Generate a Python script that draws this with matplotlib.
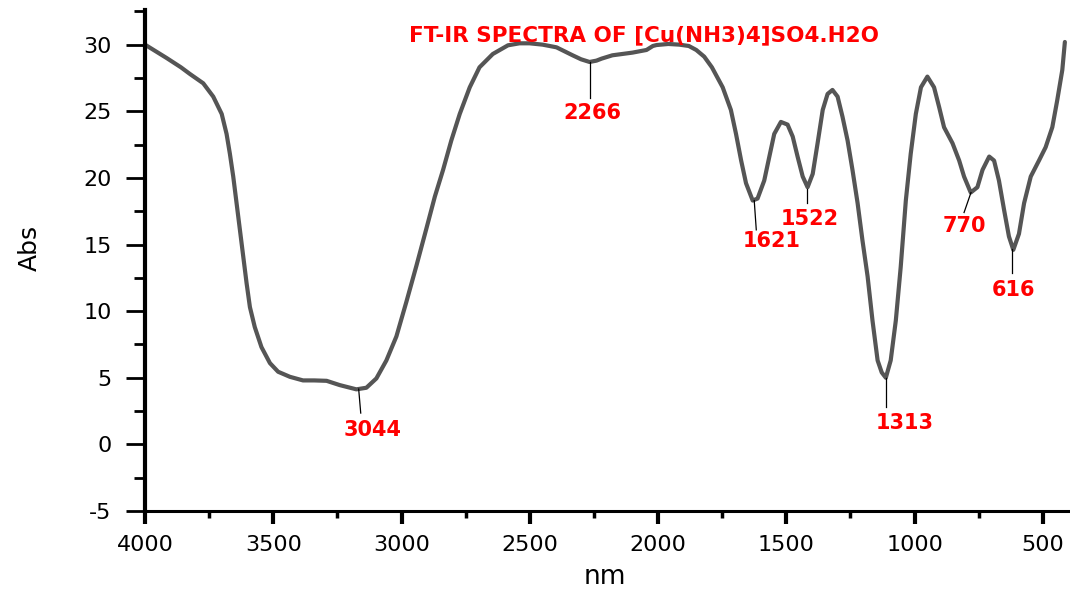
import matplotlib.pyplot as plt
from matplotlib.ticker import MultipleLocator

plt.rcParams['axes.unicode_minus'] = False

# traced spectrum (wavenumber, absorbance)
wavenumber = [4000, 3916, 3860, 3825, 3773, 3734, 3701, 3682, 3669, 3656, 3643, 3630,
              3617, 3604, 3591, 3572, 3546, 3513, 3481, 3435, 3384, 3340, 3292, 3241,
              3176, 3137, 3098, 3059, 3020, 2981, 2942, 2903, 2870, 2838, 2806, 2773,
              2734, 2696, 2644, 2585, 2540, 2501, 2450, 2396, 2333, 2300, 2267, 2240,
              2220, 2178, 2100, 2045, 2020, 2006, 1960, 1917, 1880, 1851, 1820, 1790,
              1748, 1716, 1696, 1676, 1657, 1631, 1612, 1586, 1566, 1547, 1521, 1495,
              1475, 1456, 1436, 1417, 1397, 1378, 1358, 1339, 1320, 1300, 1281, 1261,
              1242, 1222, 1203, 1183, 1164, 1144, 1128, 1112, 1093, 1073, 1054, 1034,
              1015, 995, 975, 950, 924, 904, 885, 852, 826, 807, 781, 755, 735, 709,
              690, 671, 651, 632, 615, 593, 573, 547, 515, 489, 463, 444, 424, 414]
absorbance = [30.0, 29.0, 28.3, 27.8, 27.1, 26.1, 24.8, 23.3, 21.8, 20.1, 18.1, 16.1,
              14.1, 12.1, 10.3, 8.8, 7.3, 6.1, 5.45, 5.07, 4.8, 4.8, 4.77, 4.45,
              4.13, 4.25, 4.95, 6.3, 8.1, 10.7, 13.4, 16.2, 18.6, 20.6, 22.8, 24.8,
              26.8, 28.3, 29.3, 29.95, 30.1, 30.1, 30.0, 29.8, 29.2, 28.9, 28.7, 28.8,
              28.95, 29.2, 29.4, 29.6, 29.9, 29.97, 30.05, 30.0, 29.9, 29.6, 29.1, 28.3,
              26.8, 25.1, 23.3, 21.3, 19.6, 18.3, 18.45, 19.8, 21.6, 23.3, 24.2, 24.0,
              23.1, 21.6, 20.1, 19.3, 20.3, 22.6, 25.1, 26.3, 26.6, 26.1, 24.6, 22.8,
              20.6, 18.1, 15.3, 12.6, 9.3, 6.3, 5.4, 5.0, 6.3, 9.3, 13.3, 18.3,
              21.8, 24.8, 26.8, 27.6, 26.8, 25.3, 23.8, 22.6, 21.3, 20.1, 18.9, 19.3, 20.6, 21.6,
              21.3, 19.8, 17.6, 15.6, 14.6, 15.8, 18.1, 20.1, 21.3, 22.3, 23.8, 25.8, 28.1, 30.2]

# peak labels as printed on the chart
peak_labels = ['3044', '2266', '1621', '1522', '1313', '770', '616']
peak_x = [3167, 2267, 1625, 1418, 1111, 780, 620]
peak_y = [4.15, 28.7, 18.3, 19.2, 4.98, 18.9, 14.65]
tip_x = [3159, 2267, 1617, 1418, 1111, 807, 620]
tip_y = [2.35, 26.0, 16.1, 18.1, 2.8, 17.4, 12.85]
label_x = [3112, 2255, 1558, 1410, 1040, 807, 616]
label_y = [1.1, 24.9, 15.25, 16.9, 1.6, 16.4, 11.6]

title = 'FT-IR SPECTRA OF [Cu(NH3)4]SO4.H2O'

fig = plt.figure(figsize=(10.7, 5.91), dpi=100)
ax = fig.add_axes([145 / 1070, 80 / 591, 925 / 1070, 501 / 591])

ax.plot(wavenumber, absorbance, color='#555555', lw=3, solid_joinstyle='round',
        solid_capstyle='round')

for i in range(len(peak_labels)):
    ax.plot([peak_x[i], tip_x[i]], [peak_y[i], tip_y[i]], color='black', lw=0.9)
    ax.text(label_x[i], label_y[i], peak_labels[i], color='red', fontsize=15,
            fontweight='bold', ha='center', va='center')

ax.text(0.539, 0.950, title, transform=ax.transAxes, color='red', fontsize=15.5,
        fontweight='bold', ha='center', va='center')

ax.set_xlim(4000, 394)
ax.set_ylim(-5, 32.6)
ax.xaxis.set_major_locator(MultipleLocator(500))
ax.xaxis.set_minor_locator(MultipleLocator(250))
ax.yaxis.set_major_locator(MultipleLocator(5))
ax.yaxis.set_minor_locator(MultipleLocator(2.5))

for side in ['top', 'right']:
    ax.spines[side].set_visible(False)
ax.spines['left'].set_linewidth(3)
ax.spines['bottom'].set_linewidth(2.2)

ax.tick_params(axis='x', which='major', direction='out', length=9, width=3, pad=8,
               labelsize=16)
ax.tick_params(axis='x', which='minor', direction='out', length=5, width=2.5)
ax.tick_params(axis='y', which='major', direction='out', length=14, width=2, pad=10,
               labelsize=16)
ax.tick_params(axis='y', which='minor', direction='out', length=8, width=2)

ax.set_xlabel('nm', fontsize=19)
ax.set_ylabel('Abs', fontsize=18)
ax.xaxis.set_label_coords(0.497, -0.105)
ax.yaxis.set_label_coords(-0.112, 0.525)

plt.savefig('out.png', dpi=100)
